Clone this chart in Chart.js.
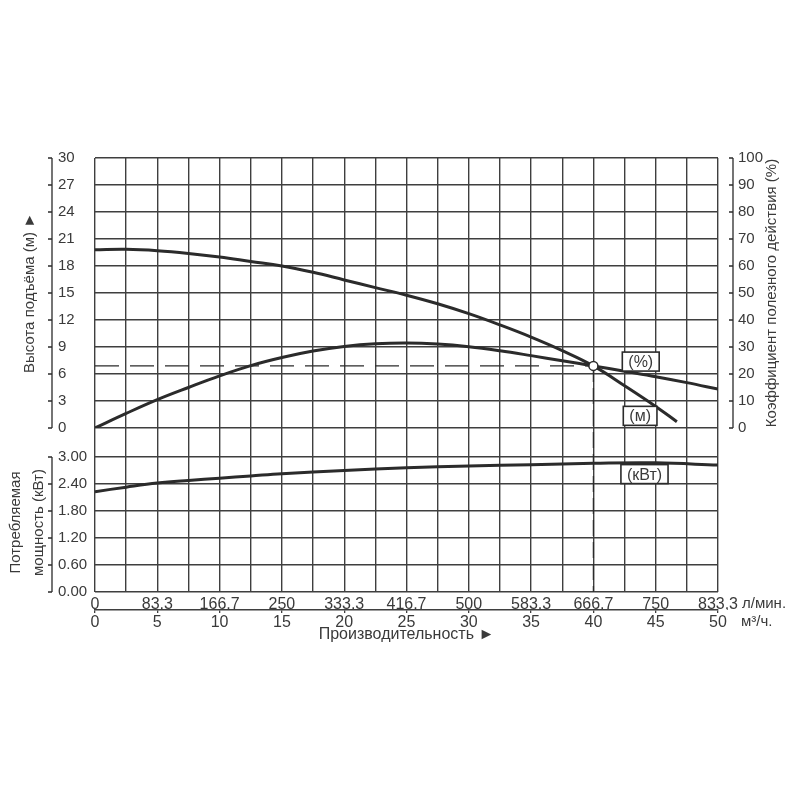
<!DOCTYPE html>
<html><head><meta charset="utf-8">
<script src="https://cdn.jsdelivr.net/npm/chart.js@4.4.1/dist/chart.umd.min.js"></script>
<style>html,body{margin:0;padding:0;background:#fff}#wrap{width:800px;height:800px}</style>
</head><body><div id="wrap"><canvas id="c" width="800" height="800"></canvas></div>
<script>
// ---- data ----
const headQ = [0,2.5,5,7.5,10,12.5,15,17.5,20,22.5,25,27.5,30,32.5,35,37.5,40,42.5,45,46.7];
const headM = [19.8,19.85,19.7,19.4,19.0,18.5,18.0,17.3,16.45,15.6,14.75,13.8,12.7,11.45,10.1,8.6,6.9,4.7,2.4,0.7];
const effQ = [0,2.5,5,7.5,10,12.5,15,17.5,20,22.5,25,27.5,30,32.5,35,37.5,40,42.5,45,47.5,50];
const effPct = [0,5.4,10.5,15.0,19.3,23.1,26.1,28.5,30.2,31.2,31.5,31.1,30.1,28.6,26.8,24.9,23.0,21.0,19.0,16.8,14.4];
const powerQ = [0,2.5,5,7.5,10,12.5,15,20,25,30,35,40,45,50];
const powerKW = [2.23,2.33,2.42,2.48,2.53,2.58,2.63,2.70,2.76,2.80,2.83,2.86,2.87,2.82];
const dutyQ = 40, dutyH = 6.9;
const xGrid = [0,2.5,5,7.5,10,12.5,15,17.5,20,22.5,25,27.5,30,32.5,35,37.5,40,42.5,45,47.5,50];
const xTicksM3h = [0,5,10,15,20,25,30,35,40,45,50];
const xTicksLmin = ['0','83,3','166,7','250','333,3','416,7','500','583,3','666,7','750','833,3'];
const headTicks = [0,3,6,9,12,15,18,21,24,27,30];
const effTicks = [0,10,20,30,40,50,60,70,80,90,100];
const powerTicks = [0,0.6,1.2,1.8,2.4,3.0];
const powerTickLabels = ['0.00','0.60','1.20','1.80','2.40','3.00'];
const unitLmin = 'л/мин.', unitM3h = 'м³/ч.';
const titleHead = 'Высота подъёма (м) ►';
const titlePower = ['Потребляемая','мощность (кВт)'];
const titleEff = 'Коэффициент полезного действия (%)';
const titleFlow = 'Производительность ►';
const seriesTags = [
  {text:'(%)', axis:'yEff', q:43.8, v:24.6},
  {text:'(м)', axis:'yHead', q:43.75, v:1.35},
  {text:'(кВт)', axis:'yPower', q:44.1, v:2.62}
];

// ---- styling ----
const INK = '#2b2b2b', GRID = '#3f3f3f', TXT = '#3a3a3a';
const FONT = "'Liberation Sans', Arial, sans-serif";
Chart.defaults.font.family = FONT;
Chart.defaults.font.size = 15;
Chart.defaults.color = TXT;

const pts = (xs, ys) => xs.map((x,i)=>({x, y: ys[i]}));

const decor = {
  id: 'decor',
  beforeDatasetsDraw(chart) {
    const {ctx, scales} = chart;
    const x = scales.x.getPixelForValue(dutyQ);
    ctx.save();
    ctx.strokeStyle = INK; ctx.lineWidth = 1.3; ctx.setLineDash([16,6]);
    ctx.beginPath();
    ctx.moveTo(x, scales.yHead.getPixelForValue(dutyH));
    ctx.lineTo(x, scales.yPower.getPixelForValue(0));
    ctx.stroke();
    ctx.restore();
  },
  afterDatasetsDraw(chart) {
    const {ctx, scales} = chart;
    ctx.save();
    ctx.font = "16px " + FONT;
    ctx.textAlign = 'center'; ctx.textBaseline = 'middle';
    seriesTags.forEach(t => {
      const cx = scales.x.getPixelForValue(t.q);
      const cy = scales[t.axis].getPixelForValue(t.v);
      const w = ctx.measureText(t.text).width + 12, h = 19;
      ctx.fillStyle = '#fff'; ctx.fillRect(cx - w/2, cy - h/2, w, h);
      ctx.strokeStyle = INK; ctx.lineWidth = 1.6; ctx.strokeRect(cx - w/2, cy - h/2, w, h);
      ctx.fillStyle = TXT; ctx.fillText(t.text, cx, cy + 1);
    });
    ctx.restore();
  },
  afterDraw(chart) {
    const {ctx, scales} = chart;
    const yH = scales.yHead, yP = scales.yPower, yE = scales.yEff, xs = scales.x, x2 = scales.x2;
    ctx.save();
    ctx.strokeStyle = INK; ctx.lineWidth = 1.3;
    const spine = (scale, ticks, sx, dir) => {
      ctx.beginPath();
      ctx.moveTo(sx, scale.getPixelForValue(ticks[0]));
      ctx.lineTo(sx, scale.getPixelForValue(ticks[ticks.length-1]));
      ticks.forEach(v => { const py = scale.getPixelForValue(v); ctx.moveTo(sx, py); ctx.lineTo(sx + dir*4, py); });
      ctx.stroke();
    };
    spine(yH, headTicks, yH.left - 6, -1);
    spine(yP, powerTicks, yP.left - 6, -1);
    spine(yE, effTicks, yE.left + 15, -1);
    // titles
    ctx.fillStyle = TXT; ctx.font = "15px " + FONT;
    ctx.textAlign = 'center'; ctx.textBaseline = 'middle';
    const vtext = (lines, cx, cy, lh) => {
      ctx.save(); ctx.translate(cx, cy); ctx.rotate(-Math.PI/2);
      lines.forEach((l,i)=> ctx.fillText(l, 0, (i - (lines.length-1)/2) * lh));
      ctx.restore();
    };
    vtext([titleHead], yH.left - 28, (yH.top + yH.bottom)/2, 0);
    vtext(titlePower, yP.left - 31, (yP.top + yP.bottom)/2 - 2, 23);
    vtext([titleEff], yE.right - 28, (yE.top + yE.bottom)/2, 0);
    // units
    ctx.font = "15px " + FONT;
    ctx.textAlign = 'left';
    ctx.fillText(unitLmin, xs.getPixelForValue(50) + 24, xs.top + 12);
    ctx.fillText(unitM3h, xs.getPixelForValue(50) + 23, x2.top + 12);
    ctx.restore();
  }
};

new Chart(document.getElementById('c'), {
  type: 'line',
  data: {
    datasets: [
      {label:'duty', data:[{x:dutyQ, y:dutyH}], xAxisID:'x', yAxisID:'yHead', showLine:false,
       pointRadius:4.5, pointBackgroundColor:'#fff', pointBorderColor:INK, pointBorderWidth:1.5},
      {label:'head', data: pts(headQ, headM), xAxisID:'x', yAxisID:'yHead', borderColor:INK, borderWidth:3,
       pointRadius:0, tension:0.4, fill:false},
      {label:'eff', data: pts(effQ, effPct), xAxisID:'x', yAxisID:'yEff', borderColor:INK, borderWidth:3,
       pointRadius:0, tension:0.4, fill:false},
      {label:'power', data: pts(powerQ, powerKW), xAxisID:'x', yAxisID:'yPower', borderColor:INK, borderWidth:3,
       pointRadius:0, tension:0.4, fill:false},
      {label:'dutyH', data:[{x:0,y:dutyH},{x:dutyQ,y:dutyH}], xAxisID:'x', yAxisID:'yHead', borderColor:INK,
       borderWidth:1.2, borderDash:[24,11], pointRadius:0, fill:false}
    ]
  },
  options: {
    responsive: false, animation: false, devicePixelRatio: 1,
    layout: {padding: {left:58, right:0, top:158, bottom:150}},
    plugins: {legend:{display:false}, tooltip:{enabled:false}},
    scales: {
      x: {type:'linear', position:'bottom', min:0, max:50, weight:0,
        afterBuildTicks: s => { s.ticks = xGrid.map(v=>({value:v})); },
        ticks: {autoSkip:false, maxRotation:0, padding:3, font:{size:16},
          callback: v => { const i = xTicksM3h.indexOf(v); return i >= 0 ? xTicksLmin[i] : ''; }},
        grid: {color:GRID, lineWidth:1.4, drawTicks:false},
        border: {display:false},
        afterFit: s => { s.height = 18; }},
      x2: {type:'linear', position:'bottom', min:0, max:50, weight:1,
        afterBuildTicks: s => { s.ticks = xTicksM3h.map(v=>({value:v})); },
        ticks: {autoSkip:false, maxRotation:0, padding:0, font:{size:16}, callback: v => String(v)},
        grid: {drawOnChartArea:false, drawTicks:true, tickLength:3, color:GRID, lineWidth:1.3},
        border: {display:true, color:GRID, width:1.4},
        title: {display:true, text:titleFlow, font:{size:16}, color:TXT, padding:{top:0, bottom:6}},
        afterFit: s => { s.height = 40; }},
      yHead: {type:'linear', position:'left', stack:'left', stackWeight:270, weight:3, min:0, max:30,
        afterBuildTicks: s => { s.ticks = headTicks.map(v=>({value:v})); },
        ticks: {autoSkip:false, crossAlign:'far', padding:0, callback: v => String(v)},
        grid: {color:GRID, lineWidth:1.4, drawTicks:false},
        border: {display:false},
        afterFit: s => { s.width = 37; }},
      yGap: {type:'linear', position:'left', stack:'left', stackWeight:29, weight:2, min:0, max:1,
        ticks: {display:false}, grid: {display:false, drawTicks:false}, border: {display:false},
        afterFit: s => { s.width = 37; }},
      yPower: {type:'linear', position:'left', stack:'left', stackWeight:135, weight:1, min:0, max:3,
        afterBuildTicks: s => { s.ticks = powerTicks.map(v=>({value:v})); },
        ticks: {autoSkip:false, crossAlign:'far', padding:0, callback: (v, i) => powerTickLabels[i]},
        grid: {color:GRID, lineWidth:1.4, drawTicks:false},
        border: {display:false},
        afterFit: s => { s.width = 37; }},
      yEff: {type:'linear', position:'right', stack:'right', stackWeight:270, weight:0, min:0, max:100,
        afterBuildTicks: s => { s.ticks = effTicks.map(v=>({value:v})); },
        ticks: {autoSkip:false, padding:20, callback: v => String(v)},
        grid: {display:false, drawTicks:false},
        border: {display:false},
        afterFit: s => { s.width = 82; }},
      yEffPad: {type:'linear', position:'right', stack:'right', stackWeight:164, weight:1, min:0, max:1,
        ticks: {display:false}, grid: {display:false, drawTicks:false}, border: {display:false},
        afterFit: s => { s.width = 82; }}
    }
  },
  plugins: [decor]
});
</script>
</body></html>
